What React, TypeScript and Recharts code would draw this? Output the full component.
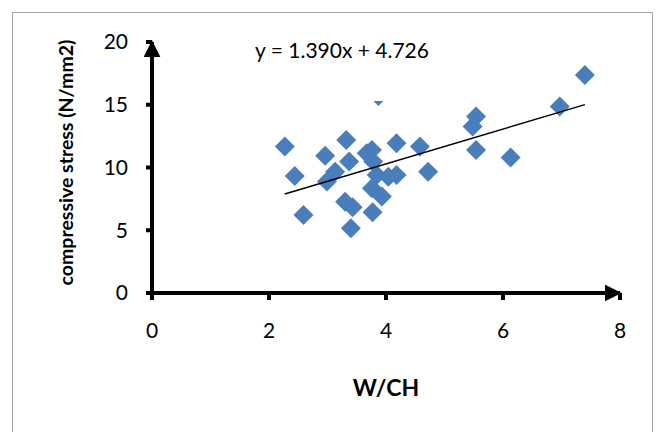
import { ScatterChart, Scatter, XAxis, YAxis, ReferenceLine, Label } from "recharts"

// W/CH ratio (x) vs compressive stress in N/mm2 (y)
const wch = [
  2.27, 2.44, 2.59, 2.96, 3.32, 3.13, 2.99, 3.37, 3.30, 3.43, 3.40, 3.77,
  3.76, 3.67, 3.78, 3.84, 3.76, 3.93, 4.04, 4.18, 4.18, 4.58, 4.72, 3.87,
  5.54, 5.48, 5.54, 6.13, 6.97, 7.40,
]
const stress = [
  11.67, 9.33, 6.22, 10.93, 12.2, 9.67, 8.88, 10.47, 7.28, 6.83, 5.16, 6.44,
  11.4, 11.14, 10.47, 9.41, 8.35, 7.68, 9.27, 9.41, 11.94, 11.67, 9.67, 15.7,
  14.06, 13.26, 11.4, 10.79, 14.86, 17.38,
]
const xTicks = [0, 2, 4, 6, 8]
const yTicks = [0, 5, 10, 15, 20]
const slope = 1.39
const intercept = 4.726

const points = wch.map((x, i) => ({ x, y: stress[i] }))
const xMin = Math.min(...wch)
const xMax = Math.max(...wch)

const font = "Lato, 'Open Sans', sans-serif"
const blue = "#4a7ebb"

const Diamond = (props: any) => {
  const { cx, cy } = props
  const r = 10
  return <path d={`M${cx},${cy - r}L${cx + r},${cy}L${cx},${cy + r}L${cx - r},${cy}Z`} fill={blue} />
}

export default function App() {
  return (
    <div style={{ position: "absolute", left: 0, top: 0, width: 659, height: 432, background: "#fff", overflow: "hidden" }}>
      <div
        style={{
          position: "absolute",
          left: 12,
          top: 12,
          width: 639,
          height: 460,
          border: "1.5px solid #a6a6a6",
        }}
      />
      <ScatterChart width={659} height={432} margin={{ top: 42, right: 39, bottom: 29, left: 72 }} style={{ position: "absolute", left: 0, top: 0 }}>
        <defs>
          <marker id="arrow" viewBox="0 0 10 10" refX="9" refY="5" markerWidth="17" markerHeight="17" markerUnits="userSpaceOnUse" orient="auto-start-reverse">
            <path d="M0,0L10,5L0,10Z" fill="#000" />
          </marker>
        </defs>
        <XAxis
          type="number"
          dataKey="x"
          domain={[0, 8]}
          ticks={xTicks}
          height={110}
          tickSize={7}
          tickMargin={23}
          axisLine={{ stroke: "#000", strokeWidth: 4, markerEnd: "url(#arrow)" }}
          tickLine={{ stroke: "#000", strokeWidth: 4 }}
          tick={{ fill: "#000", fontSize: 21, fontFamily: font }}
        >
          <Label value="W/CH" position="insideBottom" offset={7} style={{ fontSize: 23, fontWeight: 700, fontFamily: font, fill: "#000" }} />
        </XAxis>
        <YAxis
          type="number"
          dataKey="y"
          domain={[0, 20]}
          ticks={yTicks}
          width={80}
          tickSize={6}
          tickMargin={18}
          axisLine={{ stroke: "#000", strokeWidth: 4, markerStart: "url(#arrow)" }}
          tickLine={{ stroke: "#000", strokeWidth: 4 }}
          tick={{ fill: "#000", fontSize: 21, fontFamily: font }}
        >
          <Label
            content={({ viewBox }: any) => {
              const cy = viewBox.y + viewBox.height / 2 - 5
              const cx = viewBox.x - 7
              return (
                <text x={cx} y={cy} transform={`rotate(-90 ${cx} ${cy})`} textAnchor="middle" dominantBaseline="central" fontSize={19.5} fontWeight={700} fontFamily={font} fill="#000">
                  compressive stress (N/mm2)
                </text>
              )
            }}
          />
        </YAxis>
        <Scatter data={points} dataKey="y" shape={Diamond} isAnimationActive={false} />
        <ReferenceLine
          segment={[
            { x: xMin, y: slope * xMin + intercept },
            { x: xMax, y: slope * xMax + intercept },
          ]}
          stroke="#000"
          strokeWidth={1.5}
          ifOverflow="visible"
          zIndex={1000}
        >
          <Label
            zIndex={1100}
            content={() => (
              <g>
                <rect x={248} y={28} width={190} height={73} fill="#fff" />
                <text x={342} y={58} textAnchor="middle" fontSize={21} fontFamily={font} fill="#000">
                  {`y = ${slope.toFixed(3)}x + ${intercept.toFixed(3)}`}
                </text>
              </g>
            )}
          />
        </ReferenceLine>
      </ScatterChart>
    </div>
  )
}
